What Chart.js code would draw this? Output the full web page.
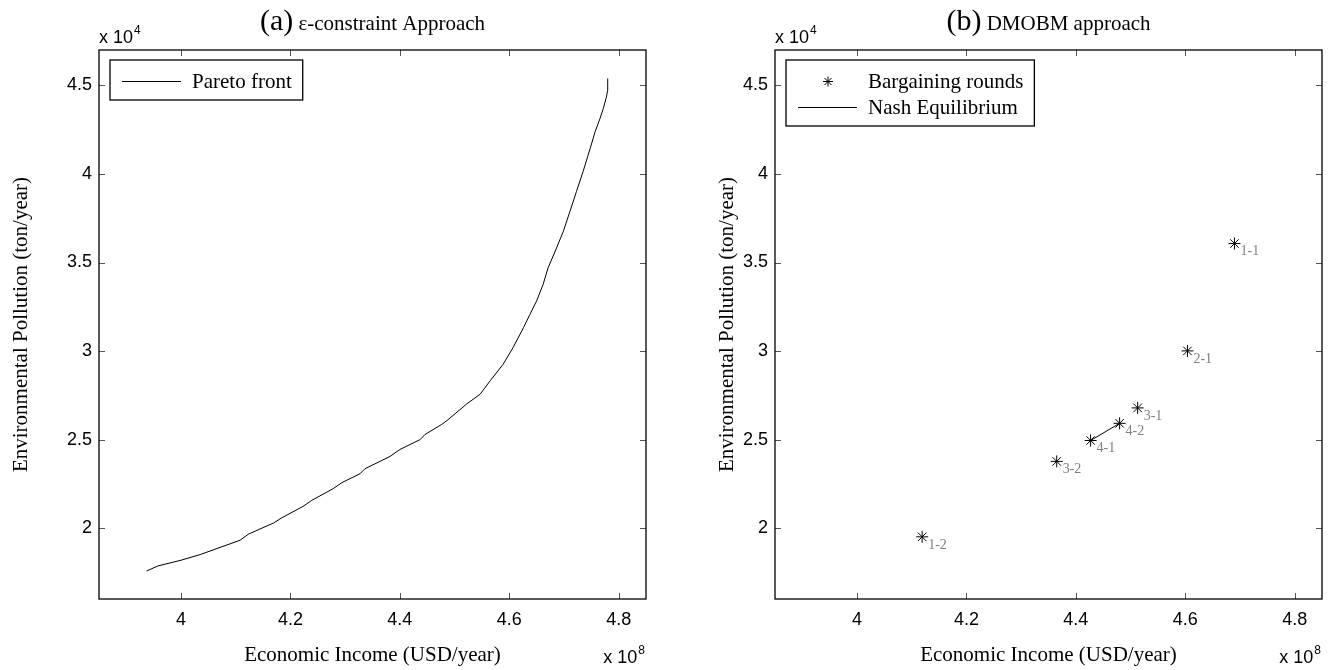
<!DOCTYPE html>
<html>
<head>
<meta charset="utf-8">
<script src="https://cdn.jsdelivr.net/npm/chart.js@4/dist/chart.umd.min.js"></script>
<style>
  body { margin: 0; background: #fff; }
  #wrap { position: relative; width: 1333px; height: 670px; }
  canvas { position: absolute; top: 0; }
</style>
</head>
<body>
<div id="wrap">
  <canvas id="left" width="666" height="670" style="left:0"></canvas>
  <canvas id="right" width="667" height="670" style="left:666px"></canvas>
</div>
<script>
// values in plotted units: income x 10^8 USD/year, pollution x 10^4 ton/year
const paretoIncome = [3.937, 3.958, 4.0, 4.035, 4.108, 4.123, 4.169, 4.184, 4.223, 4.239, 4.278, 4.294,
  4.327, 4.336, 4.382, 4.4, 4.437, 4.446, 4.476, 4.486, 4.522, 4.547, 4.565, 4.589, 4.607, 4.626,
  4.638, 4.65, 4.662, 4.671, 4.684, 4.699, 4.711, 4.723, 4.735, 4.748, 4.757, 4.766, 4.772, 4.777, 4.78, 4.78];
const paretoPollution = [1.758, 1.787, 1.819, 1.851, 1.932, 1.966, 2.029, 2.058, 2.123, 2.157, 2.223, 2.257,
  2.307, 2.335, 2.405, 2.444, 2.5, 2.529, 2.585, 2.607, 2.701, 2.757, 2.832, 2.926, 3.02, 3.132,
  3.208, 3.283, 3.377, 3.47, 3.564, 3.677, 3.789, 3.902, 4.014, 4.145, 4.239, 4.314, 4.37, 4.427, 4.473, 4.539];

const roundLabels = ['1-1', '1-2', '2-1', '3-1', '3-2', '4-1', '4-2'];
const roundIncome = [4.690, 4.119, 4.604, 4.513, 4.365, 4.427, 4.480];
const roundPollution = [3.607, 1.951, 3.001, 2.679, 2.377, 2.495, 2.592];

const nashIncome = [4.427, 4.480];
const nashPollution = [2.495, 2.592];

const xTicks = [4, 4.2, 4.4, 4.6, 4.8];
const yTicks = [2, 2.5, 3, 3.5, 4, 4.5];
const xRange = [3.85, 4.85];
const yRange = [1.6, 4.7];

const SANS = '"Liberation Sans", Arial, sans-serif';
const SERIF = '"Liberation Serif", "Times New Roman", serif';

const toPoints = (xs, ys) => xs.map((v, i) => ({x: v, y: ys[i]}));

// box, inward ticks, exponent labels and the panel title, matlab style
const matlabFrame = {
  id: 'matlabFrame',
  afterDraw(chart, args, opts) {
    const {ctx, chartArea: a, scales: {x, y}} = chart;
    ctx.save();
    ctx.strokeStyle = '#555';
    ctx.lineWidth = 1;
    ctx.beginPath();
    x.ticks.forEach(t => {
      const px = Math.round(x.getPixelForValue(t.value)) + 0.5;
      ctx.moveTo(px, a.bottom); ctx.lineTo(px, a.bottom - 6);
      ctx.moveTo(px, a.top); ctx.lineTo(px, a.top + 6);
    });
    y.ticks.forEach(t => {
      const py = Math.round(y.getPixelForValue(t.value)) + 0.5;
      ctx.moveTo(a.left, py); ctx.lineTo(a.left + 6, py);
      ctx.moveTo(a.right, py); ctx.lineTo(a.right - 6, py);
    });
    ctx.stroke();
    ctx.strokeStyle = '#000';
    ctx.lineWidth = 1.3;
    ctx.strokeRect(a.left, a.top, a.right - a.left, a.bottom - a.top);

    // "x 10^n" multipliers
    const pow = (base, sup, px, py, alignRight) => {
      ctx.font = '18px ' + SANS;
      const bw = ctx.measureText(base).width;
      ctx.font = '12px ' + SANS;
      const sw = ctx.measureText(sup).width;
      const x0 = alignRight ? px - bw - sw : px;
      ctx.fillStyle = '#000';
      ctx.textAlign = 'left';
      ctx.textBaseline = 'alphabetic';
      ctx.font = '18px ' + SANS;
      ctx.fillText(base, x0, py);
      ctx.font = '12px ' + SANS;
      ctx.fillText(sup, x0 + bw + 1, py - 9);
    };
    pow('x 10', opts.yExp, a.left, a.top - 7, false);
    pow('x 10', opts.xExp, a.right - 2, 663, true);

    // title: "(a)" bigger than the rest
    ctx.font = '30px ' + SERIF;
    const w1 = ctx.measureText(opts.tag).width;
    ctx.font = '21px ' + SERIF;
    const w2 = ctx.measureText(opts.title).width;
    const tx = (a.left + a.right) / 2 - (w1 + w2) / 2;
    ctx.fillStyle = '#000';
    ctx.font = '30px ' + SERIF;
    ctx.fillText(opts.tag, tx, 30);
    ctx.font = '21px ' + SERIF;
    ctx.fillText(opts.title, tx + w1, 30);
    ctx.restore();
  }
};

// boxed legend in the upper left corner
const boxLegend = {
  id: 'boxLegend',
  afterDraw(chart, args, opts) {
    const {ctx, chartArea: a} = chart;
    const items = opts.items;
    ctx.save();
    ctx.font = '21px ' + SERIF;
    const labels = items.map(it => chart.data.datasets[it.dataset].label);
    const textW = Math.max(...labels.map(l => ctx.measureText(l).width));
    const left = a.left + 11, top = a.top + 10;
    const rowH = 26;
    const w = 82 + textW + 11, h = items.length * rowH + 14;
    ctx.fillStyle = '#fff';
    ctx.fillRect(left, top, w, h);
    ctx.strokeStyle = '#000';
    ctx.lineWidth = 1.3;
    ctx.strokeRect(left, top, w, h);
    items.forEach((it, i) => {
      const cy = Math.round(top + 8 + rowH / 2 + i * rowH) + 0.5;
      ctx.strokeStyle = '#000';
      ctx.lineWidth = 1;
      ctx.beginPath();
      if (it.kind === 'line') {
        ctx.moveTo(left + 12, cy); ctx.lineTo(left + 71, cy);
      } else {
        const cx = left + 42, r = 5;
        ctx.moveTo(cx, cy - r); ctx.lineTo(cx, cy + r);
        ctx.moveTo(cx - r, cy); ctx.lineTo(cx + r, cy);
        const d = r * 0.707;
        ctx.moveTo(cx - d, cy - d); ctx.lineTo(cx + d, cy + d);
        ctx.moveTo(cx - d, cy + d); ctx.lineTo(cx + d, cy - d);
      }
      ctx.stroke();
      ctx.fillStyle = '#000';
      ctx.textAlign = 'left';
      ctx.textBaseline = 'middle';
      ctx.fillText(labels[i], left + 82, cy + 1);
    });
    ctx.restore();
  }
};

// grey subscripts next to the bargaining points
const pointTags = {
  id: 'pointTags',
  afterDatasetsDraw(chart, args, opts) {
    if (!opts.labels) return;
    const {ctx} = chart;
    const meta = chart.getDatasetMeta(opts.dataset);
    ctx.save();
    ctx.font = '14px ' + SERIF;
    ctx.fillStyle = '#7f7f7f';
    ctx.textAlign = 'left';
    ctx.textBaseline = 'middle';
    meta.data.forEach((el, i) => ctx.fillText(opts.labels[i], el.x + 6, el.y + 8));
    ctx.restore();
  }
};

function makeOptions(cfg) {
  return {
    responsive: false,
    animation: false,
    devicePixelRatio: 1,
    events: [],
    layout: {padding: {left: 0, right: cfg.padRight, top: 50, bottom: 0}},
    scales: {
      x: {
        type: 'linear',
        min: xRange[0], max: xRange[1],
        afterBuildTicks: s => { s.ticks = xTicks.map(v => ({value: v})); },
        afterFit: s => { s.height = 71; },
        grid: {display: false, drawTicks: false},
        border: {display: false},
        ticks: {
          padding: 10, maxRotation: 0, autoSkip: false, color: '#000',
          font: {family: SANS, size: 18},
          callback: v => String(v)
        },
        title: {display: true, text: 'Economic Income (USD/year)', color: '#000',
          font: {family: SERIF, size: 21}, padding: {top: 0, bottom: 2}}
      },
      y: {
        type: 'linear',
        min: yRange[0], max: yRange[1],
        afterBuildTicks: s => { s.ticks = yTicks.map(v => ({value: v})); },
        afterFit: s => { s.width = cfg.yWidth; },
        grid: {display: false, drawTicks: false},
        border: {display: false},
        ticks: {
          padding: 7, color: '#000',
          font: {family: SANS, size: 18},
          callback: v => String(v)
        },
        title: {display: true, text: 'Environmental Pollution (ton/year)', color: '#000',
          font: {family: SERIF, size: 21}, padding: {top: cfg.yTitlePad, bottom: 0}}
      }
    },
    plugins: {
      legend: {display: false},
      tooltip: {enabled: false},
      matlabFrame: {tag: cfg.tag, title: cfg.title, xExp: '8', yExp: '4'},
      boxLegend: {items: cfg.legendItems},
      pointTags: cfg.tags || {}
    }
  };
}

new Chart(document.getElementById('left'), {
  type: 'scatter',
  data: {
    datasets: [{
      label: 'Pareto front',
      data: toPoints(paretoIncome, paretoPollution),
      showLine: true,
      borderColor: '#000',
      borderWidth: 1,
      pointRadius: 0,
      tension: 0
    }]
  },
  options: makeOptions({
    padRight: 20, yWidth: 99, yTitlePad: 9,
    tag: '(a)', title: ' ε-constraint Approach',
    legendItems: [{dataset: 0, kind: 'line'}]
  }),
  plugins: [matlabFrame, boxLegend]
});

new Chart(document.getElementById('right'), {
  type: 'scatter',
  data: {
    datasets: [{
      label: 'Bargaining rounds',
      data: toPoints(roundIncome, roundPollution),
      showLine: false,
      pointStyle: 'star',
      pointRadius: 6,
      pointBorderColor: '#000',
      pointBorderWidth: 1
    }, {
      label: 'Nash Equilibrium',
      data: toPoints(nashIncome, nashPollution),
      showLine: true,
      borderColor: '#000',
      borderWidth: 1,
      pointRadius: 0
    }]
  },
  options: makeOptions({
    padRight: 11, yWidth: 109, yTitlePad: 49,
    tag: '(b)', title: ' DMOBM approach',
    legendItems: [{dataset: 0, kind: 'star'}, {dataset: 1, kind: 'line'}],
    tags: {dataset: 0, labels: roundLabels}
  }),
  plugins: [matlabFrame, boxLegend, pointTags]
});
</script>
</body>
</html>
